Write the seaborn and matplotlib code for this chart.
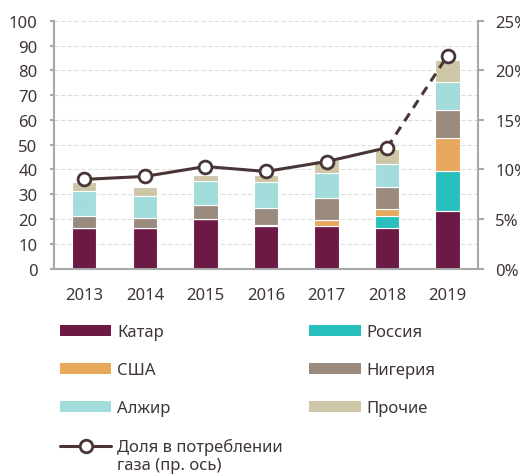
import numpy as np
import pandas as pd
import seaborn as sns
import matplotlib.pyplot as plt
from matplotlib.patches import Patch
from matplotlib.lines import Line2D

# Data
years = ['2013', '2014', '2015', '2016', '2017', '2018', '2019']
qatar = [16.2, 16.3, 20.1, 17.3, 17.3, 16.3, 23.3]
russia = [0, 0, 0, 0, 0, 4.9, 16.2]
usa = [0, 0, 0, 0.4, 2.3, 2.9, 13.4]
nigeria = [5.1, 3.9, 5.6, 6.8, 8.9, 8.9, 11.3]
algeria = [9.9, 8.9, 9.5, 10.6, 10.2, 9.2, 11.2]
others = [3.9, 3.7, 2.4, 2.8, 5.0, 6.1, 8.9]
share = [9.0, 9.3, 10.3, 9.8, 10.8, 12.2, 21.5]

series_names = ['Катар', 'Россия', 'США', 'Нигерия', 'Алжир', 'Прочие']
series_values = [qatar, russia, usa, nigeria, algeria, others]
colors = ['#6d1945', '#29bfbd', '#e8a85b', '#9a8b7e', '#a2dddb', '#cdc7a7']
line_label_1 = 'Доля в потреблении'
line_label_2 = 'газа (пр. ось)'

text_color = '#3f3536'
line_color = '#4a3536'
axis_color = '#a8a8a8'
fs = 12

sns.set_style('white')
plt.rcParams['font.family'] = ['Noto Sans', 'DejaVu Sans']
plt.rcParams['text.color'] = text_color

fig = plt.figure(figsize=(5.2, 4.77), dpi=100)
ax = fig.add_axes([0.104, 0.435, 0.815, 0.519])

df = pd.DataFrame({'year': years})
bottom = np.zeros(len(years))
for name, vals, col in zip(series_names, series_values, colors):
    df[name] = vals
    sns.barplot(data=df, x='year', y=name, color=col, width=0.4,
                bottom=bottom, edgecolor='white', linewidth=0.8,
                saturation=1, ax=ax, zorder=2)
    bottom = bottom + np.array(vals)

ax.set_ylim(0, 100)
ax.set_xlim(-0.5, len(years) - 0.5)
ax.set_yticks(range(0, 101, 10))
ax.set_xlabel('')
ax.set_ylabel('')
ax.yaxis.grid(True, color='#dedede', linestyle=(0, (4, 2)), linewidth=0.8)
ax.set_axisbelow(True)
for s in ['top', 'right']:
    ax.spines[s].set_visible(False)
for s in ['left', 'bottom']:
    ax.spines[s].set_color(axis_color)
    ax.spines[s].set_linewidth(1.5)
ax.tick_params(axis='y', length=3, width=1.5, color=axis_color, pad=9,
               labelsize=fs, labelcolor=text_color, left=True)
ax.tick_params(axis='x', length=0, pad=13, labelsize=fs, labelcolor=text_color)

# Share of gas consumption, right axis
ax2 = ax.twinx()
xpos = np.arange(len(years))
line_df = pd.DataFrame({'x': xpos, 'share': share})
sns.lineplot(data=line_df.iloc[:-1], x='x', y='share', color=line_color,
             linewidth=2.2, ax=ax2, zorder=3)
sns.lineplot(data=line_df.iloc[-2:], x='x', y='share', color=line_color,
             linewidth=2.2, linestyle=(0, (3, 2.2)), ax=ax2, zorder=3)
sns.scatterplot(data=line_df, x='x', y='share', color='white',
                edgecolor=line_color, linewidth=2, s=85, ax=ax2, zorder=4)
ax2.set_ylim(0, 25)
ax2.set_yticks(range(0, 26, 5))
ax2.set_yticklabels([f'{v}%' for v in range(0, 26, 5)])
ax2.set_xlim(-0.5, len(years) - 0.5)
ax2.set_xlabel('')
ax2.set_ylabel('')
for s in ['top', 'left', 'bottom']:
    ax2.spines[s].set_visible(False)
ax2.spines['right'].set_color(axis_color)
ax2.spines['right'].set_linewidth(1.5)
ax2.tick_params(axis='y', length=4.5, width=1.5, color=axis_color, pad=8,
                labelsize=fs, labelcolor=text_color, right=True)

# Legend in two columns, drawn as two separate legends
patches = {n: Patch(facecolor=c, edgecolor='none') for n, c in zip(series_names, colors)}
line_handle = Line2D([], [], color=line_color, linewidth=2.2, marker='o',
                     markersize=9, markerfacecolor='white', markeredgewidth=2)
leg_kw = dict(loc='upper left', frameon=False, fontsize=fs, handlelength=3.1,
              handleheight=0.6, handletextpad=0.35, labelspacing=1.32,
              borderaxespad=0, borderpad=0)
col1 = ['Катар', 'США', 'Алжир']
col2 = ['Россия', 'Нигерия', 'Прочие']
leg1 = fig.legend([patches[n] for n in col1] + [line_handle], col1 + [line_label_1],
                  bbox_to_anchor=(0.115, 0.318), **leg_kw)
fig.legend([patches[n] for n in col2], col2,
           bbox_to_anchor=(0.594, 0.318), **leg_kw)

# second line of the line-series label, under the first one
fig.canvas.draw()
bb = leg1.get_texts()[-1].get_window_extent().transformed(fig.transFigure.inverted())
fig.text(bb.x0, bb.y0 - 0.004, line_label_2, fontsize=fs, va='top', ha='left')

fig.savefig('out.png', dpi=100)
